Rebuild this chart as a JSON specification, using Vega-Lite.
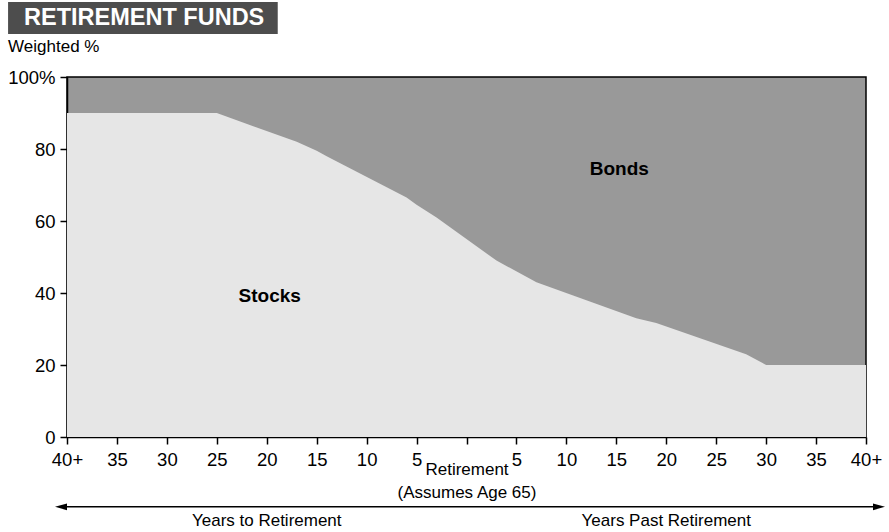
{
  "$schema": "https://vega.github.io/schema/vega-lite/v6.json",
  "width": 799,
  "height": 360,
  "autosize": {"type": "none"},
  "padding": {"left": 67, "top": 77, "right": 23, "bottom": 95},
  "background": "white",
  "config": {
    "font": "Liberation Sans",
    "view": {"fill": "#999999", "stroke": "black", "strokeWidth": 1.5},
    "axis": {
      "grid": false,
      "domainColor": "black",
      "domainWidth": 1.5,
      "tickColor": "black",
      "tickWidth": 1.5,
      "tickSize": 7,
      "labelColor": "black",
      "labelFontSize": 18.5,
      "labelFont": "Liberation Sans",
      "titleFont": "Liberation Sans"
    }
  },
  "datasets": {
    "stocks": [
      {"years": -40, "stocks": 90},
      {"years": -25, "stocks": 90},
      {"years": -17, "stocks": 82},
      {"years": -15, "stocks": 79.5},
      {"years": -14, "stocks": 78},
      {"years": -6, "stocks": 66.5},
      {"years": -5, "stocks": 64.5},
      {"years": -3, "stocks": 61},
      {"years": 3, "stocks": 49},
      {"years": 7, "stocks": 43},
      {"years": 17, "stocks": 33},
      {"years": 19, "stocks": 31.7},
      {"years": 28, "stocks": 23},
      {"years": 30, "stocks": 20},
      {"years": 40, "stocks": 20}
    ],
    "labels": [
      {"years": -19.7, "pct": 39.2, "text": "Stocks"},
      {"years": 15.3, "pct": 74.4, "text": "Bonds"}
    ],
    "bottom": [
      {"years": -20, "pct": -23.3, "text": "Years to Retirement"},
      {"years": 20, "pct": -23.3, "text": "Years Past Retirement"}
    ],
    "arrow": [
      {"x1": -40.8, "x2": 41.5, "pct": -19.4}
    ],
    "heads": [
      {"years": -40.6, "pct": -19.4, "dir": "left"},
      {"years": 41.3, "pct": -19.4, "dir": "right"}
    ],
    "header": [
      {"x1": -45.9, "x2": -18.9, "y1": 111.94, "y2": 120.83}
    ],
    "headerText": [
      {"years": -44.3, "pct": 116.4, "text": "RETIREMENT FUNDS"}
    ],
    "sub": [
      {"years": -45.9, "pct": 108.3, "text": "Weighted %"}
    ]
  },
  "layer": [
    {
      "data": {"name": "stocks"},
      "mark": {"type": "area", "color": "#e6e6e6", "clip": true},
      "encoding": {
        "x": {
          "field": "years",
          "type": "quantitative",
          "scale": {"domain": [-40, 40], "nice": false, "zero": false},
          "axis": {
            "values": [-40, -35, -30, -25, -20, -15, -10, -5, 0, 5, 10, 15, 20, 25, 30, 35, 40],
            "labelExpr": "datum.value == 0 ? '' : (abs(datum.value) == 40 ? '40+' : '' + abs(datum.value))",
            "labelPadding": 6,
            "labelFlush": false,
            "labelOverlap": false,
            "title": ["Retirement", "(Assumes Age 65)"],
            "titleFontSize": 17,
            "titleFontWeight": "normal",
            "titleColor": "black",
            "titleBaseline": "alphabetic",
            "titleY": 37,
            "titleLineHeight": 23
          }
        },
        "y": {
          "field": "stocks",
          "type": "quantitative",
          "scale": {"domain": [0, 100], "nice": false},
          "axis": {
            "values": [0, 20, 40, 60, 80, 100],
            "labelExpr": "datum.value == 100 ? '100%' : datum.label",
            "labelPadding": 5,
            "title": null
          }
        }
      }
    },
    {
      "data": {"name": "labels"},
      "mark": {"type": "text", "fontSize": 19, "fontWeight": "bold", "color": "black"},
      "encoding": {
        "x": {"field": "years", "type": "quantitative"},
        "y": {"field": "pct", "type": "quantitative"},
        "text": {"field": "text"}
      }
    },
    {
      "data": {"name": "bottom"},
      "mark": {"type": "text", "fontSize": 17, "color": "black"},
      "encoding": {
        "x": {"field": "years", "type": "quantitative"},
        "y": {"field": "pct", "type": "quantitative"},
        "text": {"field": "text"}
      }
    },
    {
      "data": {"name": "arrow"},
      "mark": {"type": "rule", "color": "black", "strokeWidth": 1.5},
      "encoding": {
        "x": {"field": "x1", "type": "quantitative"},
        "x2": {"field": "x2"},
        "y": {"field": "pct", "type": "quantitative"}
      }
    },
    {
      "data": {"name": "heads"},
      "mark": {"type": "point", "filled": true, "color": "black", "opacity": 1, "size": 144},
      "encoding": {
        "x": {"field": "years", "type": "quantitative"},
        "y": {"field": "pct", "type": "quantitative"},
        "shape": {
          "field": "dir",
          "type": "nominal",
          "scale": {"domain": ["left", "right"], "range": ["M -1 0 L 1 -0.55 L 1 0.55 Z", "M 1 0 L -1 -0.55 L -1 0.55 Z"]},
          "legend": null
        }
      }
    },
    {
      "data": {"name": "header"},
      "mark": {"type": "rect", "color": "#4d4d4d"},
      "encoding": {
        "x": {"field": "x1", "type": "quantitative"},
        "x2": {"field": "x2"},
        "y": {"field": "y1", "type": "quantitative"},
        "y2": {"field": "y2"}
      }
    },
    {
      "data": {"name": "headerText"},
      "mark": {"type": "text", "fontSize": 23.5, "fontWeight": "bold", "color": "white", "align": "left", "baseline": "middle"},
      "encoding": {
        "x": {"field": "years", "type": "quantitative"},
        "y": {"field": "pct", "type": "quantitative"},
        "text": {"field": "text"}
      }
    },
    {
      "data": {"name": "sub"},
      "mark": {"type": "text", "fontSize": 17, "color": "black", "align": "left", "baseline": "middle"},
      "encoding": {
        "x": {"field": "years", "type": "quantitative"},
        "y": {"field": "pct", "type": "quantitative"},
        "text": {"field": "text"}
      }
    }
  ]
}
